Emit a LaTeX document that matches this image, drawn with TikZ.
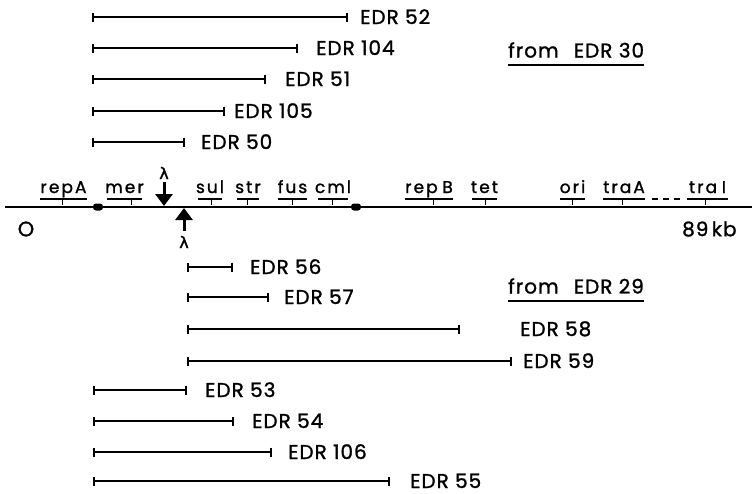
\documentclass[tikz,border=0pt]{standalone}
\usepackage{fontspec}
\setmainfont{Poppins}[FakeBold=1.2]
\newfontfamily\labfont{Poppins}[FakeBold=1.3,LetterSpace=5]
\newfontfamily\genefont{Poppins}[FakeBold=1.3,LetterSpace=12]
\newfontfamily\grk{DejaVu Sans}[FakeBold=1.8]
\usetikzlibrary{arrows.meta,calc}
\tikzset{
  bar/.style={line width=1.6pt,{Bar[width=9pt]}-{Bar[width=9pt]}},
  lab/.style={anchor=base west,inner sep=0pt,text height=14pt,text depth=0pt,font=\labfont\fontsize{20}{20}\selectfont},
  gene/.style={anchor=base,inner sep=0pt,font=\genefont\fontsize{17}{17}\selectfont},
  uline/.style={line width=2pt},
  tick/.style={line width=0.9pt},
  lam/.style={line width=3pt,-{Triangle[length=12pt,width=17pt]}},
  blob/.style={fill=black,rounded corners=3pt,minimum width=10pt,minimum height=7pt,inner sep=0pt},
  head/.style={anchor=west,inner sep=0pt,font=\labfont\fontsize{20}{20}\selectfont},
  lamlab/.style={inner sep=0pt,font=\grk\fontsize{16}{16}\selectfont}
}
\begin{document}
\begin{tikzpicture}[x=1pt,y=-1pt]
\useasboundingbox (0,0) rectangle (752,493);
% main line
\coordinate (m0) at (5,207);
\coordinate (m1) at (752,207);
\draw[line width=1.5pt] (m0) -- (m1);
\node[blob] (b1) at (98,207) {};
\node[blob] (b2) at (356,207) {};
% genes: name, text, left, right, tick
\foreach \n/\t/\l/\r/\k in {repA/repA/40/87/62, mer/mer/107/142/131, sul/sul/198/222/211, str/str/237/259/247, fus/fus/278/307/292, cml/cml/318/348/332, repB/rep\;B/405/453/433, tet/tet/472/497/485, ori/ori/560/585/572, traA/traA/603/645/622, traI/tra\;I/687/728/705}{
  \node[gene] (g\n) at ({(\l+\r)/2},193) {\t};
  \draw[uline] (\l,199) -- (\r,199);
  \draw[tick] (\k,199) -- (\k,205);
}
\draw[uline,dash pattern=on 6pt off 5pt] (652,199) -- (684,199);
% lambda arrows
\node[lamlab] (l1) at (164,173) {λ};
\coordinate (a1s) at (164,182);
\coordinate (a1e) at (164,206);
\draw[lam] (a1s) -- (a1e);
\coordinate (a2s) at (184,231);
\coordinate (a2e) at (184,208);
\draw[lam] (a2s) -- (a2e);
\node[lamlab] (l2) at (184,242) {λ};
% scale labels
\node[inner sep=0pt,font=\labfont\fontsize{21}{21}\selectfont] (zero) at (26,229) {O};
\node[inner sep=0pt,anchor=west,font=\labfont\fontsize{20}{20}\selectfont] (kb) at (682,229) {89\,kb};
% from headings
\node[head] (h30) at (508,50) {from\;\, EDR 30};
\draw[uline] ($(h30.south west)+(0,7)$) -- ($(h30.south east)+(0,7)$);
\node[head] (h29) at (508,286) {from\;\, EDR 29};
\draw[uline] ($(h29.south west)+(0,7)$) -- ($(h29.south east)+(0,7)$);
% top bars
\foreach \nm/\y/\e/\lx in {52/17/348/360, 104/48/298/316, 51/79/266/285, 105/111/225/234, 50/142/185/201}{
  \coordinate (s\nm) at (92,\y);
  \coordinate (e\nm) at (\e,\y);
  \draw[bar] (s\nm) -- (e\nm);
  \node[lab] (t\nm) at (\lx,\y+7) {EDR \nm};
}
% bottom bars
\foreach \nm/\sx/\y/\e/\lx in {56/187/267/233/250, 57/187/297/269/284, 58/187/329/460/520, 59/187/361/512/523, 53/93/390/187/205, 54/93/421/234/252, 106/93/452/272/288, 55/93/481/390/410}{
  \coordinate (s\nm) at (\sx,\y);
  \coordinate (e\nm) at (\e,\y);
  \draw[bar] (s\nm) -- (e\nm);
  \node[lab] (t\nm) at (\lx,\y+7) {EDR \nm};
}
\end{tikzpicture}
\end{document}
